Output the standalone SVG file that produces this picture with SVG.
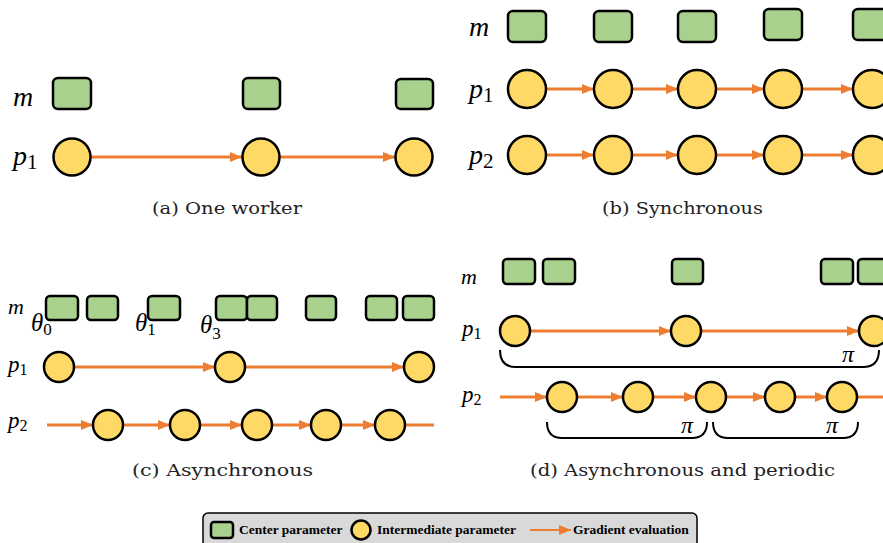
<svg xmlns="http://www.w3.org/2000/svg" width="883" height="543" viewBox="0 0 883 543">
<style>
.c{fill:#a9d18e;stroke:#000;stroke-width:2.5}
.p{fill:#ffd966;stroke:#000;stroke-width:2.5}
.e{stroke:#ed7d31;stroke-width:3;fill:none}
.br{stroke:#000;stroke-width:2;fill:none}
.lb{font-family:'Liberation Serif','DejaVu Serif',serif;font-style:italic;fill:#000}
.sb{font-style:normal}
.cap{font-family:'DejaVu Serif','Liberation Serif',serif;font-size:16.5px;fill:#222}
.lg{font-family:'Liberation Serif','DejaVu Serif',serif;font-weight:bold;font-size:13.5px;fill:#000}
</style>
<defs>
<marker id="ah" markerUnits="userSpaceOnUse" markerWidth="12" markerHeight="10" refX="12" refY="5" orient="auto">
<path d="M0,0 L12,5 L0,10 z" fill="#ed7d31"/>
</marker>
</defs>

<g id="connectors">
<line class="e" x1="91" y1="157" x2="242" y2="157" marker-end="url(#ah)"/>
<line class="e" x1="280" y1="157" x2="395" y2="157" marker-end="url(#ah)"/>
<line class="e" x1="546" y1="89" x2="594" y2="89" marker-end="url(#ah)"/>
<line class="e" x1="632" y1="89" x2="678" y2="89" marker-end="url(#ah)"/>
<line class="e" x1="716" y1="89" x2="764" y2="89" marker-end="url(#ah)"/>
<line class="e" x1="802" y1="89" x2="853" y2="89" marker-end="url(#ah)"/>
<line class="e" x1="546" y1="155" x2="594" y2="155" marker-end="url(#ah)"/>
<line class="e" x1="632" y1="155" x2="678" y2="155" marker-end="url(#ah)"/>
<line class="e" x1="716" y1="155" x2="764" y2="155" marker-end="url(#ah)"/>
<line class="e" x1="802" y1="155" x2="853" y2="155" marker-end="url(#ah)"/>
<line class="e" x1="74" y1="367" x2="215" y2="367" marker-end="url(#ah)"/>
<line class="e" x1="245" y1="367" x2="404" y2="367" marker-end="url(#ah)"/>
<line class="e" x1="47" y1="425" x2="93" y2="425" marker-end="url(#ah)"/>
<line class="e" x1="123" y1="425" x2="170" y2="425" marker-end="url(#ah)"/>
<line class="e" x1="200" y1="425" x2="242" y2="425" marker-end="url(#ah)"/>
<line class="e" x1="272" y1="425" x2="311" y2="425" marker-end="url(#ah)"/>
<line class="e" x1="341" y1="425" x2="375" y2="425" marker-end="url(#ah)"/>
<line class="e" x1="405" y1="425" x2="434" y2="425"/>
<line class="e" x1="530" y1="331" x2="671" y2="331" marker-end="url(#ah)"/>
<line class="e" x1="701" y1="331" x2="859" y2="331" marker-end="url(#ah)"/>
<line class="e" x1="500" y1="397" x2="547" y2="397" marker-end="url(#ah)"/>
<line class="e" x1="577" y1="397" x2="623" y2="397" marker-end="url(#ah)"/>
<line class="e" x1="653" y1="397" x2="696" y2="397" marker-end="url(#ah)"/>
<line class="e" x1="726" y1="397" x2="765" y2="397" marker-end="url(#ah)"/>
<line class="e" x1="795" y1="397" x2="827" y2="397" marker-end="url(#ah)"/>
<line class="e" x1="857" y1="397" x2="883" y2="397"/>
</g>

<g id="a-labels">
<text class="lb" x="13" y="106" font-size="28">m</text>
<text class="lb" x="13" y="165" font-size="28">p<tspan class="sb" font-size="21" dy="4">1</tspan></text>
<text class="cap" x="152" y="214" textLength="150" lengthAdjust="spacingAndGlyphs">(a)  One worker</text>
</g>
<g id="a-m0"><rect class="c" x="53" y="78" width="38" height="31" rx="5"/></g>
<g id="a-m1"><rect class="c" x="243" y="78" width="37" height="31" rx="5"/></g>
<g id="a-m2"><rect class="c" x="396" y="79" width="37" height="30" rx="5"/></g>
<g id="a-p0"><circle class="p" cx="72" cy="157" r="18.5"/></g>
<g id="a-p1"><circle class="p" cx="261" cy="157" r="18.5"/></g>
<g id="a-p2"><circle class="p" cx="414" cy="157" r="18.5"/></g>

<g id="b-labels">
<text class="lb" x="469" y="36" font-size="28">m</text>
<text class="lb" x="469" y="98" font-size="28">p<tspan class="sb" font-size="21" dy="4">1</tspan></text>
<text class="lb" x="469" y="164" font-size="28">p<tspan class="sb" font-size="21" dy="4">2</tspan></text>
<text class="cap" x="602" y="214" textLength="161" lengthAdjust="spacingAndGlyphs">(b)  Synchronous</text>
</g>
<g id="b-m0"><rect class="c" x="508" y="11" width="38" height="31" rx="5"/></g>
<g id="b-m1"><rect class="c" x="594" y="11" width="38" height="31" rx="5"/></g>
<g id="b-m2"><rect class="c" x="678" y="11" width="38" height="31" rx="5"/></g>
<g id="b-m3"><rect class="c" x="764" y="9" width="38" height="31" rx="5"/></g>
<g id="b-m4"><rect class="c" x="853" y="9" width="38" height="31" rx="5"/></g>
<g id="b-p1-0"><circle class="p" cx="527" cy="89" r="19"/></g>
<g id="b-p1-1"><circle class="p" cx="613" cy="89" r="19"/></g>
<g id="b-p1-2"><circle class="p" cx="697" cy="89" r="19"/></g>
<g id="b-p1-3"><circle class="p" cx="783" cy="89" r="19"/></g>
<g id="b-p1-4"><circle class="p" cx="872" cy="89" r="19"/></g>
<g id="b-p2-0"><circle class="p" cx="527" cy="155" r="19"/></g>
<g id="b-p2-1"><circle class="p" cx="613" cy="155" r="19"/></g>
<g id="b-p2-2"><circle class="p" cx="697" cy="155" r="19"/></g>
<g id="b-p2-3"><circle class="p" cx="783" cy="155" r="19"/></g>
<g id="b-p2-4"><circle class="p" cx="872" cy="155" r="19"/></g>

<g id="c-labels">
<text class="lb" x="8" y="314" font-size="22">m</text>
<text class="lb" x="31" y="331" font-size="25">θ<tspan class="sb" font-size="17" dy="4">0</tspan></text>
<text class="lb" x="135" y="331" font-size="25">θ<tspan class="sb" font-size="17" dy="4">1</tspan></text>
<text class="lb" x="200" y="333" font-size="25">θ<tspan class="sb" font-size="17" dy="6">3</tspan></text>
<text class="lb" x="8" y="372" font-size="23">p<tspan class="sb" font-size="16" dy="3">1</tspan></text>
<text class="lb" x="8" y="428" font-size="23">p<tspan class="sb" font-size="16" dy="3">2</tspan></text>
<text class="cap" x="132" y="476" textLength="181" lengthAdjust="spacingAndGlyphs">(c)  Asynchronous</text>
</g>
<g id="c-m0"><rect class="c" x="46" y="296" width="32" height="24" rx="4"/></g>
<g id="c-m1"><rect class="c" x="87" y="296" width="31" height="24" rx="4"/></g>
<g id="c-m2"><rect class="c" x="148" y="296" width="32" height="24" rx="4"/></g>
<g id="c-m3"><rect class="c" x="216" y="296" width="31" height="24" rx="4"/></g>
<g id="c-m4"><rect class="c" x="247" y="296" width="30" height="24" rx="4"/></g>
<g id="c-m5"><rect class="c" x="306" y="296" width="30" height="24" rx="4"/></g>
<g id="c-m6"><rect class="c" x="366" y="296" width="31" height="24" rx="4"/></g>
<g id="c-m7"><rect class="c" x="403" y="296" width="31" height="24" rx="4"/></g>
<g id="c-p1-0"><circle class="p" cx="59" cy="367" r="15"/></g>
<g id="c-p1-1"><circle class="p" cx="230" cy="367" r="15"/></g>
<g id="c-p1-2"><circle class="p" cx="419" cy="367" r="15"/></g>
<g id="c-p2-0"><circle class="p" cx="108" cy="425" r="15"/></g>
<g id="c-p2-1"><circle class="p" cx="185" cy="425" r="15"/></g>
<g id="c-p2-2"><circle class="p" cx="257" cy="425" r="15"/></g>
<g id="c-p2-3"><circle class="p" cx="326" cy="425" r="15"/></g>
<g id="c-p2-4"><circle class="p" cx="390" cy="425" r="15"/></g>

<g id="d-labels">
<text class="lb" x="461" y="284" font-size="22">m</text>
<text class="lb" x="462" y="336" font-size="23">p<tspan class="sb" font-size="16" dy="3">1</tspan></text>
<text class="lb" x="462" y="402" font-size="23">p<tspan class="sb" font-size="16" dy="3">2</tspan></text>
<text class="cap" x="530" y="476" textLength="305" lengthAdjust="spacingAndGlyphs">(d)  Asynchronous and periodic</text>
</g>
<g id="d-m0"><rect class="c" x="503" y="259" width="32" height="25" rx="4"/></g>
<g id="d-m1"><rect class="c" x="543" y="259" width="32" height="25" rx="4"/></g>
<g id="d-m2"><rect class="c" x="672" y="259" width="31" height="25" rx="4"/></g>
<g id="d-m3"><rect class="c" x="821" y="259" width="32" height="25" rx="4"/></g>
<g id="d-m4"><rect class="c" x="858" y="259" width="32" height="25" rx="4"/></g>
<g id="d-p1-0"><circle class="p" cx="515" cy="331" r="15"/></g>
<g id="d-p1-1"><circle class="p" cx="686" cy="331" r="15"/></g>
<g id="d-p1-2"><circle class="p" cx="874" cy="331" r="15"/></g>
<g id="d-p2-0"><circle class="p" cx="562" cy="397" r="15"/></g>
<g id="d-p2-1"><circle class="p" cx="638" cy="397" r="15"/></g>
<g id="d-p2-2"><circle class="p" cx="711" cy="397" r="15"/></g>
<g id="d-p2-3"><circle class="p" cx="780" cy="397" r="15"/></g>
<g id="d-p2-4"><circle class="p" cx="842" cy="397" r="15"/></g>
<g id="d-brace-p1">
<path class="br" d="M500,350 Q500,367 516,367 L863,367 Q879,367 879,350"/>
<text class="lb" x="842" y="362" font-size="24">π</text>
</g>
<g id="d-brace-p2a">
<path class="br" d="M547,422 Q547,438 562,438 L692,438 Q707,438 707,422"/>
<text class="lb" x="681" y="433" font-size="24">π</text>
</g>
<g id="d-brace-p2b">
<path class="br" d="M713,422 Q713,438 728,438 L843,438 Q858,438 858,422"/>
<text class="lb" x="826" y="433" font-size="24">π</text>
</g>

<g id="legend">
<rect x="203" y="513" width="494" height="34" rx="5" fill="#d9d9d9" stroke="#000" stroke-width="1.5"/>
<rect class="c" x="211" y="522" width="22" height="16" rx="3" stroke-width="1.8"/>
<text class="lg" x="239" y="534">Center parameter</text>
<circle class="p" cx="361" cy="530" r="9.5" stroke-width="1.8"/>
<text class="lg" x="377" y="534">Intermediate parameter</text>
<line x1="530" y1="530" x2="571" y2="530" stroke="#ed7d31" stroke-width="2" marker-end="url(#ah)"/>
<text class="lg" x="573" y="534">Gradient evaluation</text>
</g>
</svg>
